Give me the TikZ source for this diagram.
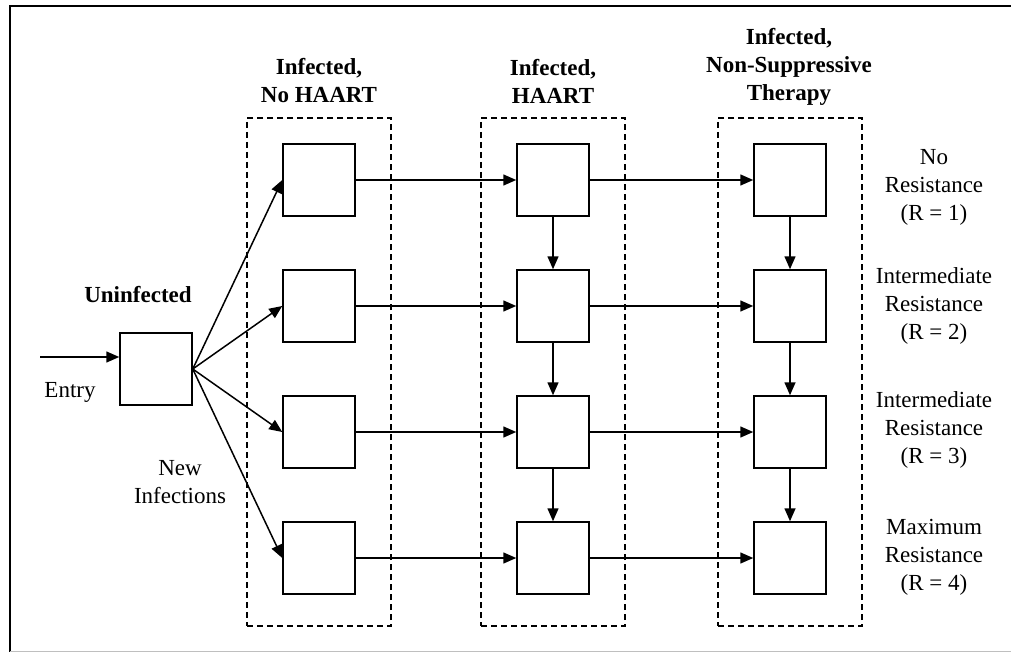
\documentclass[tikz,border=0pt]{standalone}
\usepackage{fontspec}
\setmainfont{Liberation Serif}
\usetikzlibrary{arrows.meta}
\tikzset{
  statebox/.style={draw, line width=1.5pt, minimum width=72pt, minimum height=72pt, inner sep=0pt},
  groupbox/.style={draw, line width=1.4pt, dash pattern=on 6pt off 4pt, minimum width=144pt, minimum height=508pt, inner sep=0pt},
  flow/.style={line width=1.5pt, -{Triangle[length=13pt,width=11pt]}},
  lbl/.style={align=center, inner sep=0pt, font=\fontsize{23}{28}\selectfont},
  hdr/.style={align=center, inner sep=0pt, font=\fontsize{23}{28}\selectfont\bfseries},
}
\begin{document}
\begin{tikzpicture}[x=1pt,y=-1pt]
\useasboundingbox (0,0) rectangle (1011,652);
% frame
\draw[line width=2pt] (1011,6) -- (10,6) -- (10,652);
\draw[line width=1pt, black!25] (10,651) -- (1011,651);

% group boxes
\node[groupbox] (g1) at (319,372) {};
\node[groupbox] (g2) at (553,372) {};
\node[groupbox] (g3) at (790,372) {};

% headers
\node[hdr] (h1) at (319,81) {Infected,\\No HAART};
\node[hdr] (h2) at (553,81) {Infected,\\HAART};
\node[hdr] (h3) at (789,67) {Infected,\\Non-Suppressive\\Therapy};

% uninfected
\node[statebox] (u) at (156,369) {};
\node[hdr] (ul) at (138,295) {Uninfected};
\coordinate (entry) at (40,357);
\node[lbl] (el) at (70,392) {Entry};
\node[lbl] (nl) at (180,482) {New\\Infections};

% state boxes
\foreach \r/\y in {1/180,2/306,3/432,4/558}{
  \node[statebox] (a\r) at (319,\y) {};
  \node[statebox] (b\r) at (553,\y) {};
  \node[statebox] (c\r) at (790,\y) {};
}

% right labels
\node[lbl] (r1) at (934,187) {No\\Resistance\\(R = 1)};
\node[lbl] (r2) at (934,306) {Intermediate\\Resistance\\(R = 2)};
\node[lbl] (r3) at (934,430) {Intermediate\\Resistance\\(R = 3)};
\node[lbl] (r4) at (934,557) {Maximum\\Resistance\\(R = 4)};

% connectors
\draw[flow] (entry) -- (u.west |- entry);
\foreach \r in {1,2,3,4}{
  \draw[flow] (u.east) -- (a\r.west);
  \draw[flow] (a\r.east) -- (b\r.west);
  \draw[flow] (b\r.east) -- (c\r.west);
}
\foreach \r/\s in {1/2,2/3,3/4}{
  \draw[flow] (b\r.south) -- (b\s.north);
  \draw[flow] (c\r.south) -- (c\s.north);
}
\end{tikzpicture}
\end{document}
